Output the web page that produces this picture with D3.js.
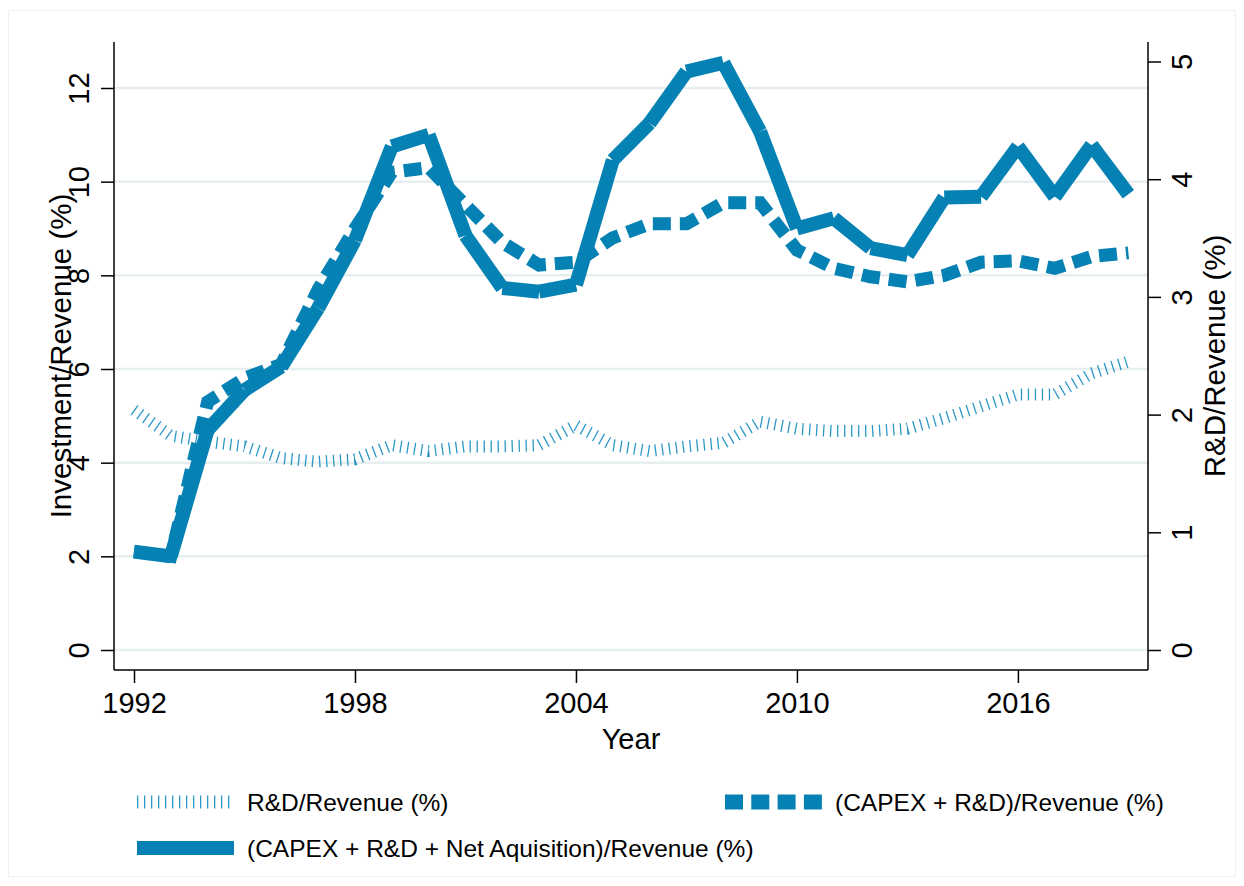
<!DOCTYPE html>
<html>
<head>
<meta charset="utf-8">
<script src="https://cdn.jsdelivr.net/npm/d3@7"></script>
<style>
  html, body { margin: 0; padding: 0; background: #ffffff; }
  svg { display: block; font-family: "Liberation Sans", Arial, Helvetica, sans-serif; }
</style>
</head>
<body>
<svg id="chart" width="1244" height="886"></svg>
<script>
// ---- data ----
const years = [1992,1993,1994,1995,1996,1997,1998,1999,2000,2001,2002,2003,2004,2005,2006,2007,2008,2009,2010,2011,2012,2013,2014,2015,2016,2017,2018,2019];
const rdRevenue = [2.04,1.82,1.77,1.73,1.63,1.60,1.62,1.74,1.69,1.73,1.73,1.74,1.91,1.74,1.69,1.73,1.76,1.94,1.88,1.86,1.86,1.88,1.97,2.07,2.17,2.17,2.35,2.45];
const capexRd = [2.1,2.0,5.3,5.8,6.1,7.7,9.0,10.2,10.3,9.5,8.7,8.22,8.28,8.8,9.1,9.1,9.55,9.55,8.54,8.15,7.97,7.86,8.0,8.28,8.31,8.15,8.4,8.48];
const capexRdAcq = [2.1,2.0,4.7,5.55,6.05,7.3,8.75,10.75,11.0,8.85,7.73,7.65,7.8,10.46,11.25,12.35,12.54,11.07,9.0,9.22,8.58,8.43,9.66,9.68,10.75,9.68,10.78,9.73];
const xTicks = [1992,1998,2004,2010,2016];
const leftTicks = [0,2,4,6,8,10,12];
const rightTicks = [0,1,2,3,4,5];
const seriesNames = ["R&D/Revenue (%)", "(CAPEX + R&D)/Revenue (%)", "(CAPEX + R&D + Net Aquisition)/Revenue (%)"];
const xTitle = "Year", yLeftTitle = "Investment/Revenue (%)", yRightTitle = "R&D/Revenue (%)";

// ---- layout ----
const svg = d3.select("#chart");
const blue = "#0581b3", blueLight = "#2b97c8";
const plotL = 114, plotR = 1148, plotT = 42, plotB = 670;
const x = d3.scaleLinear().domain([1992, 2019]).range([134, 1128.4]);
const yL = d3.scaleLinear().domain([0, 12]).range([650, 88]);
const yR = d3.scaleLinear().domain([0, 5]).range([650, 61.5]);

// outer faint frame
svg.append("rect").attr("x", 8.5).attr("y", 10.5).attr("width", 1227).attr("height", 866)
  .attr("fill", "none").attr("stroke", "#edf1f2").attr("stroke-width", 1);

// gridlines
svg.append("g").selectAll("line").data(leftTicks).join("line")
  .attr("x1", plotL).attr("x2", plotR)
  .attr("y1", d => yL(d)).attr("y2", d => yL(d))
  .attr("stroke", "#e6eef0").attr("stroke-width", 2.5);

// ---- series ----
const lineRd = d3.line().x((d, i) => x(years[i])).y(d => yR(d));
const lineL = d3.line().x((d, i) => x(years[i])).y(d => yL(d));

svg.append("path").datum(rdRevenue).attr("d", lineRd)
  .attr("fill", "none").attr("stroke", blueLight).attr("stroke-width", 12)
  .attr("stroke-dasharray", "1.3 5.7").attr("stroke-linejoin", "round");

svg.append("path").datum(capexRd).attr("d", lineL)
  .attr("fill", "none").attr("stroke", blue).attr("stroke-width", 13)
  .attr("stroke-dasharray", "18 9").attr("stroke-linejoin", "miter");

const segs = d3.pairs(capexRdAcq.map((v, i) => [years[i], v]));
svg.append("g").selectAll("line").data(segs).join("line")
  .attr("x1", d => x(d[0][0])).attr("y1", d => yL(d[0][1]))
  .attr("x2", d => x(d[1][0])).attr("y2", d => yL(d[1][1]))
  .attr("stroke", blue).attr("stroke-width", 14).attr("stroke-linecap", "butt");

// ---- axes ----
const axisColor = "#000";
// left
const gL = svg.append("g").attr("transform", `translate(${plotL},0)`)
  .call(d3.axisLeft(yL).tickValues(leftTicks).tickSize(13).tickFormat(d3.format("d")));
gL.select(".domain").remove();
gL.selectAll(".tick line").attr("stroke", axisColor).attr("stroke-width", 1.5);
gL.selectAll(".tick text").attr("x", 0).attr("dy", 0)
  .attr("transform", "translate(-25,0) rotate(-90)")
  .attr("text-anchor", "middle").attr("font-size", 29).attr("fill", "#000")
  .attr("font-family", "Liberation Sans, Arial, sans-serif");
svg.append("line").attr("x1", plotL).attr("x2", plotL).attr("y1", plotT).attr("y2", plotB)
  .attr("stroke", axisColor).attr("stroke-width", 1.5);

// right
const gR = svg.append("g").attr("transform", `translate(${plotR},0)`)
  .call(d3.axisRight(yR).tickValues(rightTicks).tickSize(13).tickFormat(d3.format("d")));
gR.select(".domain").remove();
gR.selectAll(".tick line").attr("stroke", axisColor).attr("stroke-width", 1.5);
gR.selectAll(".tick text").attr("x", 0).attr("dy", 0)
  .attr("transform", "translate(44,0) rotate(-90)")
  .attr("text-anchor", "middle").attr("font-size", 29).attr("fill", "#000")
  .attr("font-family", "Liberation Sans, Arial, sans-serif");
svg.append("line").attr("x1", plotR).attr("x2", plotR).attr("y1", plotT).attr("y2", plotB)
  .attr("stroke", axisColor).attr("stroke-width", 1.5);

// bottom
const gB = svg.append("g").attr("transform", `translate(0,${plotB})`)
  .call(d3.axisBottom(x).tickValues(xTicks).tickSize(13).tickFormat(d3.format("d")));
gB.select(".domain").remove();
gB.selectAll(".tick line").attr("stroke", axisColor).attr("stroke-width", 1.5);
gB.selectAll(".tick text").attr("y", 0).attr("dy", 0).attr("transform", "translate(0,43)")
  .attr("text-anchor", "middle").attr("font-size", 29).attr("fill", "#000")
  .attr("font-family", "Liberation Sans, Arial, sans-serif");
svg.append("line").attr("x1", plotL).attr("x2", plotR).attr("y1", plotB).attr("y2", plotB)
  .attr("stroke", axisColor).attr("stroke-width", 1.5);

// titles
svg.append("text").attr("x", 631).attr("y", 749).attr("text-anchor", "middle")
  .attr("font-size", 29).text(xTitle);
svg.append("text").attr("transform", "translate(71,356) rotate(-90)").attr("text-anchor", "middle")
  .attr("font-size", 29.5).text(yLeftTitle);
svg.append("text").attr("transform", "translate(1225,356) rotate(-90)").attr("text-anchor", "middle")
  .attr("font-size", 29.5).text(yRightTitle);

// ---- legend ----
const leg = svg.append("g");
const legItems = [
  {name: seriesNames[0], x: 137, y: 802, type: "rd"},
  {name: seriesNames[1], x: 725, y: 802, type: "dash"},
  {name: seriesNames[2], x: 137, y: 848, type: "solid"}
];
legItems.forEach(it => {
  const l = leg.append("line").attr("x1", it.x).attr("x2", it.x + 97).attr("y1", it.y).attr("y2", it.y);
  if (it.type === "rd") l.attr("stroke", blueLight).attr("stroke-width", 13).attr("stroke-dasharray", "1.3 5.7");
  if (it.type === "dash") l.attr("stroke", blue).attr("stroke-width", 15).attr("stroke-dasharray", "18 8.3");
  if (it.type === "solid") l.attr("stroke", blue).attr("stroke-width", 14);
  leg.append("text").attr("x", it.x + 110).attr("y", it.y + 8.5).attr("font-size", 24.5).text(it.name);
});
</script>
</body>
</html>
